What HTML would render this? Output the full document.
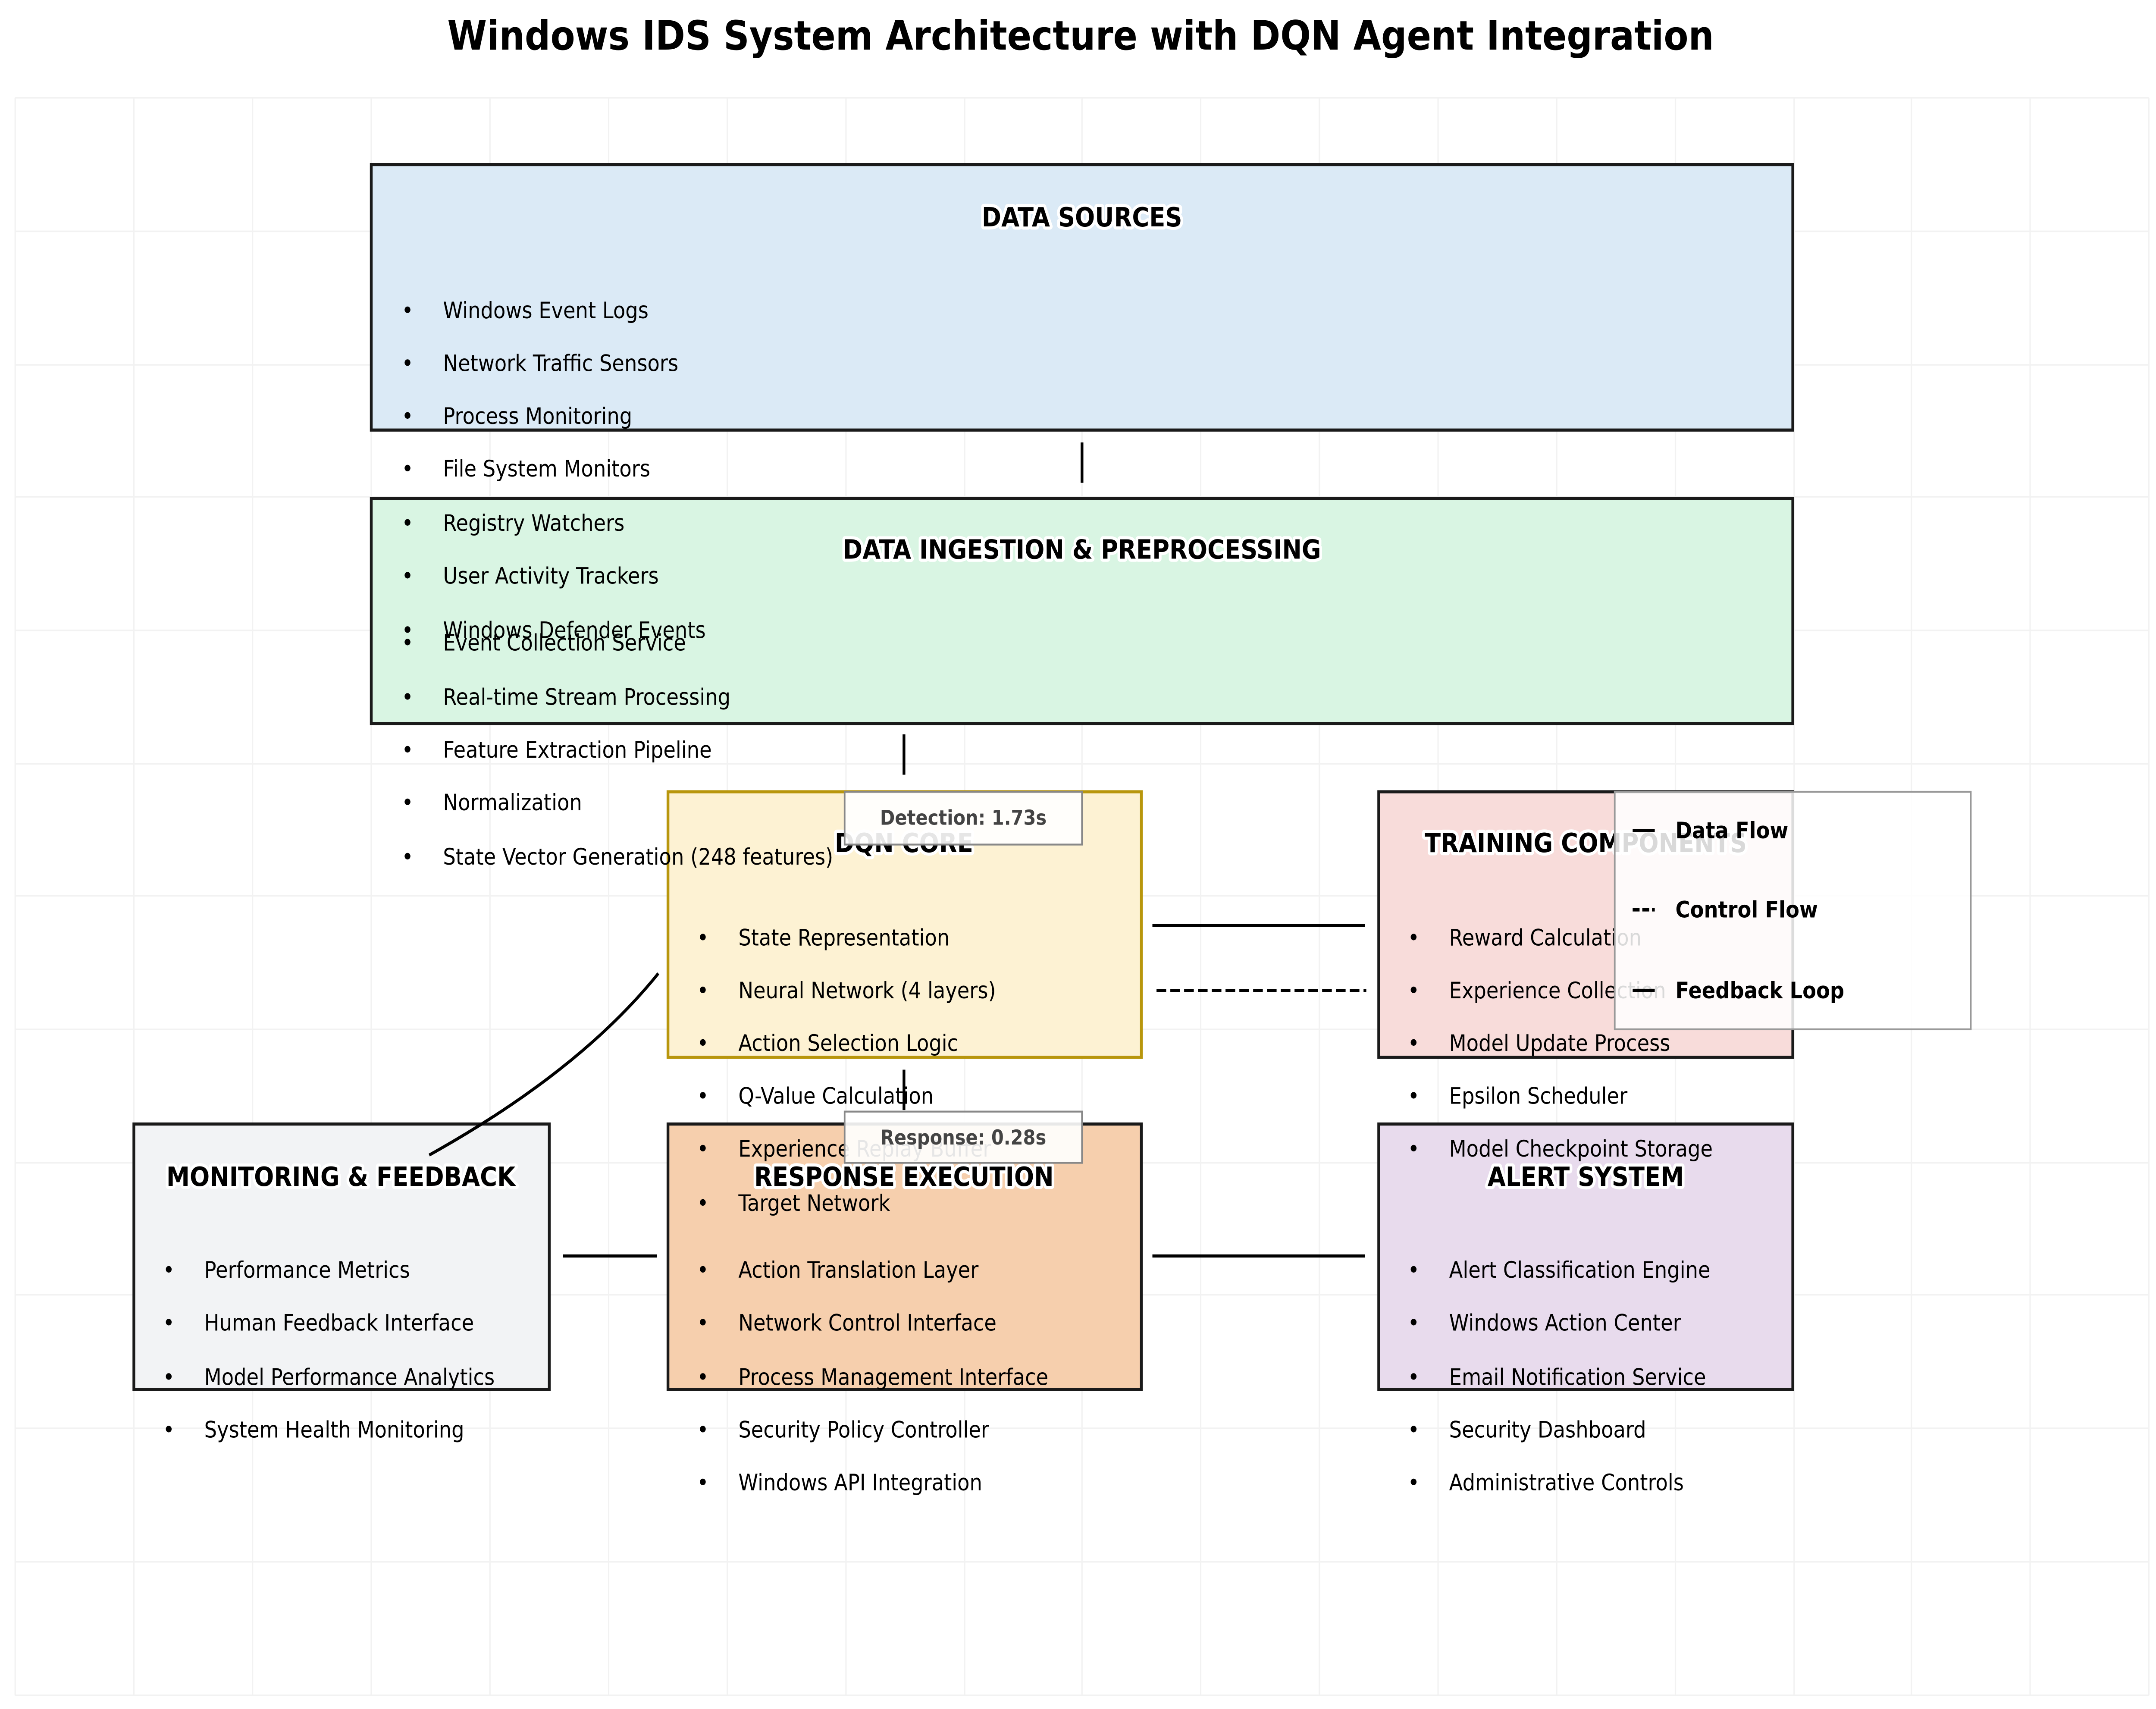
<!DOCTYPE html>
<html><head><meta charset="utf-8"><style>
html,body{margin:0;padding:0;background:#fff;width:100%;height:100%;overflow:hidden;}
svg{position:absolute;left:0;top:0;display:block;width:100vw;height:100vh;}
text{font-family:"DejaVu Sans","Liberation Sans",sans-serif;}
.t{font-weight:bold;font-size:17px;text-anchor:middle;paint-order:stroke;stroke:#fff;stroke-width:4px;stroke-linejoin:round;}
.i{font-size:14.5px;fill:#000;}
.g line{stroke:#f2f2f2;stroke-width:1;}
</style></head><body>
<svg viewBox="0 0 1562.2 1100.8" preserveAspectRatio="none" xmlns="http://www.w3.org/2000/svg">
<rect width="1562.2" height="1100.8" fill="#fff"/>
<g class="g">
<line x1="11" y1="63" x2="11" y2="1092"/><line x1="97" y1="63" x2="97" y2="1092"/><line x1="183" y1="63" x2="183" y2="1092"/><line x1="269" y1="63" x2="269" y2="1092"/><line x1="355" y1="63" x2="355" y2="1092"/><line x1="441" y1="63" x2="441" y2="1092"/><line x1="527" y1="63" x2="527" y2="1092"/><line x1="613" y1="63" x2="613" y2="1092"/><line x1="699" y1="63" x2="699" y2="1092"/><line x1="784" y1="63" x2="784" y2="1092"/><line x1="870" y1="63" x2="870" y2="1092"/><line x1="956" y1="63" x2="956" y2="1092"/><line x1="1042" y1="63" x2="1042" y2="1092"/><line x1="1128" y1="63" x2="1128" y2="1092"/><line x1="1214" y1="63" x2="1214" y2="1092"/><line x1="1300" y1="63" x2="1300" y2="1092"/><line x1="1385" y1="63" x2="1385" y2="1092"/><line x1="1471" y1="63" x2="1471" y2="1092"/><line x1="1557" y1="63" x2="1557" y2="1092"/>
<line x1="11" y1="63" x2="1557" y2="63"/><line x1="11" y1="149" x2="1557" y2="149"/><line x1="11" y1="235" x2="1557" y2="235"/><line x1="11" y1="320" x2="1557" y2="320"/><line x1="11" y1="406" x2="1557" y2="406"/><line x1="11" y1="492" x2="1557" y2="492"/><line x1="11" y1="577" x2="1557" y2="577"/><line x1="11" y1="663" x2="1557" y2="663"/><line x1="11" y1="749" x2="1557" y2="749"/><line x1="11" y1="834" x2="1557" y2="834"/><line x1="11" y1="920" x2="1557" y2="920"/><line x1="11" y1="1006" x2="1557" y2="1006"/><line x1="11" y1="1092" x2="1557" y2="1092"/>
</g>
<text x="783" y="32" font-size="26" font-weight="bold" text-anchor="middle">Windows IDS System Architecture with DQN Agent Integration</text>

<g stroke="#1a1a1a" stroke-width="2">
<rect x="269" y="106" width="1030" height="171" fill="#dbeaf6"/>
<rect x="269" y="321" width="1030" height="145" fill="#d9f5e3"/>
<rect x="484" y="510" width="343" height="171" fill="#fdf2d3" stroke="#b8960c"/>
<rect x="999" y="510" width="300" height="171" fill="#f8dcda"/>
<rect x="97" y="724" width="301" height="171" fill="#f2f3f5"/>
<rect x="484" y="724" width="343" height="171" fill="#f6cfad"/>
<rect x="999" y="724" width="300" height="171" fill="#e8dbed"/>
</g>
<g stroke="#000" stroke-width="2" fill="none">
<line x1="784" y1="285" x2="784" y2="311"/>
<line x1="655" y1="473" x2="655" y2="499"/>
<line x1="655" y1="689" x2="655" y2="715"/>
<line x1="835" y1="596" x2="989" y2="596"/>
<line x1="838" y1="638" x2="990" y2="638" stroke-dasharray="7,3"/>
<line x1="835" y1="809" x2="989" y2="809"/>
<line x1="408" y1="809" x2="476" y2="809"/>
<path d="M477,627 Q420,690 311,744"/>
</g>

<g class="t">
<text x="784" y="140" dominant-baseline="central">DATA SOURCES</text>
<text x="784" y="354" dominant-baseline="central">DATA INGESTION &amp; PREPROCESSING</text>
<text x="655" y="543" dominant-baseline="central">DQN CORE</text>
<text x="1149" y="543" dominant-baseline="central">TRAINING COMPONENTS</text>
<text x="247" y="758" dominant-baseline="central">MONITORING &amp; FEEDBACK</text>
<text x="655" y="758" dominant-baseline="central">RESPONSE EXECUTION</text>
<text x="1149" y="758" dominant-baseline="central">ALERT SYSTEM</text>
</g>

<g class="i" dominant-baseline="central">
<g><text x="291" y="200">•</text><text x="321" y="200">Windows Event Logs</text>
<text x="291" y="234">•</text><text x="321" y="234">Network Traffic Sensors</text>
<text x="291" y="268">•</text><text x="321" y="268">Process Monitoring</text>
<text x="291" y="302">•</text><text x="321" y="302">File System Monitors</text>
<text x="291" y="337">•</text><text x="321" y="337">Registry Watchers</text>
<text x="291" y="371">•</text><text x="321" y="371">User Activity Trackers</text>
<text x="291" y="406">•</text><text x="321" y="406">Windows Defender Events</text></g>
<g><text x="291" y="414">•</text><text x="321" y="414">Event Collection Service</text>
<text x="291" y="449">•</text><text x="321" y="449">Real-time Stream Processing</text>
<text x="291" y="483">•</text><text x="321" y="483">Feature Extraction Pipeline</text>
<text x="291" y="517">•</text><text x="321" y="517">Normalization</text>
<text x="291" y="552">•</text><text x="321" y="552">State Vector Generation (248 features)</text></g>
<g><text x="505" y="604">•</text><text x="535" y="604">State Representation</text>
<text x="505" y="638">•</text><text x="535" y="638">Neural Network (4 layers)</text>
<text x="505" y="672">•</text><text x="535" y="672">Action Selection Logic</text>
<text x="505" y="706">•</text><text x="535" y="706">Q-Value Calculation</text>
<text x="505" y="740">•</text><text x="535" y="740">Experience Replay Buffer</text>
<text x="505" y="775">•</text><text x="535" y="775">Target Network</text></g>
<g><text x="1020" y="604">•</text><text x="1050" y="604">Reward Calculation</text>
<text x="1020" y="638">•</text><text x="1050" y="638">Experience Collection</text>
<text x="1020" y="672">•</text><text x="1050" y="672">Model Update Process</text>
<text x="1020" y="706">•</text><text x="1050" y="706">Epsilon Scheduler</text>
<text x="1020" y="740">•</text><text x="1050" y="740">Model Checkpoint Storage</text></g>
<g><text x="118" y="818">•</text><text x="148" y="818">Performance Metrics</text>
<text x="118" y="852">•</text><text x="148" y="852">Human Feedback Interface</text>
<text x="118" y="887">•</text><text x="148" y="887">Model Performance Analytics</text>
<text x="118" y="921">•</text><text x="148" y="921">System Health Monitoring</text></g>
<g><text x="505" y="818">•</text><text x="535" y="818">Action Translation Layer</text>
<text x="505" y="852">•</text><text x="535" y="852">Network Control Interface</text>
<text x="505" y="887">•</text><text x="535" y="887">Process Management Interface</text>
<text x="505" y="921">•</text><text x="535" y="921">Security Policy Controller</text>
<text x="505" y="955">•</text><text x="535" y="955">Windows API Integration</text></g>
<g><text x="1020" y="818">•</text><text x="1050" y="818">Alert Classification Engine</text>
<text x="1020" y="852">•</text><text x="1050" y="852">Windows Action Center</text>
<text x="1020" y="887">•</text><text x="1050" y="887">Email Notification Service</text>
<text x="1020" y="921">•</text><text x="1050" y="921">Security Dashboard</text>
<text x="1020" y="955">•</text><text x="1050" y="955">Administrative Controls</text></g>
</g>

<g font-size="13" font-weight="bold" fill="#444" text-anchor="middle">
<rect x="612" y="510" width="172" height="34" fill="#fff" fill-opacity="0.9" stroke="#888" stroke-width="1.2"/>
<text x="698" y="527" dominant-baseline="central">Detection: 1.73s</text>
<rect x="612" y="716" width="172" height="33" fill="#fff" fill-opacity="0.9" stroke="#888" stroke-width="1.2"/>
<text x="698" y="733" dominant-baseline="central">Response: 0.28s</text>
</g>

<rect x="1170" y="510" width="258" height="153" fill="#fff" fill-opacity="0.85" stroke="#999" stroke-width="1.2"/>
<g stroke="#000" stroke-width="2.2">
<line x1="1183" y1="535" x2="1199" y2="535"/>
<line x1="1183" y1="586" x2="1199" y2="586" stroke-dasharray="5,2"/>
<line x1="1183" y1="638" x2="1199" y2="638"/>
</g>
<g font-size="14.5" font-weight="bold" dominant-baseline="central">
<text x="1214" y="535">Data Flow</text>
<text x="1214" y="586">Control Flow</text>
<text x="1214" y="638">Feedback Loop</text>
</g>
</svg>
</body></html>
